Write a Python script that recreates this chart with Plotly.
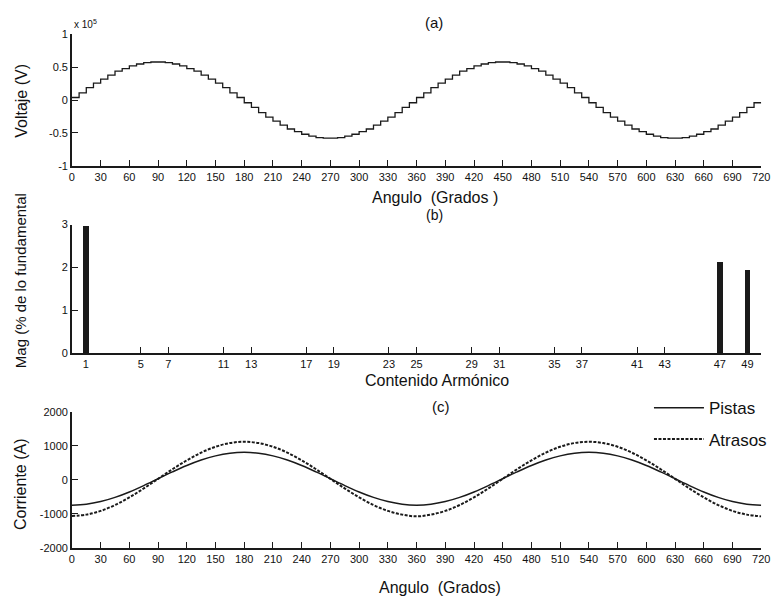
import plotly.graph_objects as go

# ---------------- data ----------------
angle_ticks = list(range(0, 721, 30))

# (a) stepped voltage (x 10^5 V), one level per 7.5 degree step, 0..720
step_angles = [i * 7.5 for i in range(96)] + [720]
voltage = [
    0.04, 0.11, 0.19, 0.26, 0.32, 0.38, 0.44, 0.48, 0.52, 0.55, 0.57, 0.58,
    0.58, 0.57, 0.55, 0.52, 0.48, 0.44, 0.38, 0.32, 0.26, 0.19, 0.11, 0.04,
    -0.04, -0.11, -0.19, -0.26, -0.32, -0.38, -0.44, -0.48, -0.52, -0.55, -0.57, -0.58,
    -0.58, -0.57, -0.55, -0.52, -0.48, -0.44, -0.38, -0.32, -0.26, -0.19, -0.11, -0.04,
    0.04, 0.11, 0.19, 0.26, 0.32, 0.38, 0.44, 0.48, 0.52, 0.55, 0.57, 0.58,
    0.58, 0.57, 0.55, 0.52, 0.48, 0.44, 0.38, 0.32, 0.26, 0.19, 0.11, 0.04,
    -0.04, -0.11, -0.19, -0.26, -0.32, -0.38, -0.44, -0.48, -0.52, -0.55, -0.57, -0.58,
    -0.58, -0.57, -0.55, -0.52, -0.48, -0.44, -0.38, -0.32, -0.26, -0.19, -0.11, -0.04,
]
voltage_plot = voltage + [voltage[-1]]

# (b) harmonic content (% of fundamental)
harmonics = [1, 5, 7, 11, 13, 17, 19, 23, 25, 29, 31, 35, 37, 41, 43, 47, 49]
magnitude = [2.97, 0, 0, 0, 0, 0, 0, 0, 0, 0, 0, 0, 0, 0, 0, 2.13, 1.96]

# (c) currents (A), every 15 degrees 0..720
current_angles = list(range(0, 721, 15))
pistas = [
    -740, -714, -636, -513, -353, -166, 35, 236, 423, 583, 706, 784, 810,
    784, 706, 583, 423, 236, 35, -166, -353, -513, -636, -714, -740,
    -714, -636, -513, -353, -166, 35, 236, 423, 583, 706, 784, 810,
    784, 706, 583, 423, 236, 35, -166, -353, -513, -636, -714, -740,
]
atrasos = [
    -1056, -1019, -910, -737, -512, -250, 32, 314, 576, 801, 974, 1083, 1120,
    1083, 974, 801, 576, 314, 32, -250, -512, -737, -910, -1019, -1070,
    -1019, -910, -737, -512, -250, 32, 314, 576, 801, 974, 1083, 1120,
    1083, 974, 801, 576, 314, 32, -250, -512, -737, -910, -1019, -1070,
]

# ---------------- figure ----------------
W, H = 784, 606
TICKFONT = dict(family="Liberation Sans Narrow, Liberation Sans, Arial", size=11, color="#111")
INK = "#1a1a1a"

def yd(top, bottom):
    return [1 - bottom / H, 1 - top / H]

XDOM = [70 / W, 770 / W]

fig = go.Figure()

fig.add_trace(go.Scatter(x=step_angles, y=voltage_plot, mode="lines", line_shape="hv",
                         line=dict(color=INK, width=1.3), showlegend=False,
                         xaxis="x", yaxis="y"))

fig.add_trace(go.Bar(x=harmonics, y=magnitude, width=0.4, marker=dict(color=INK, line_width=0),
                     showlegend=False, xaxis="x2", yaxis="y2"))

fig.add_trace(go.Scatter(x=current_angles, y=pistas, mode="lines", line_shape="spline",
                         name="Pistas", line=dict(color=INK, width=1.5),
                         legendgroup="g1", xaxis="x3", yaxis="y3"))
fig.add_trace(go.Scatter(x=current_angles, y=atrasos, mode="lines", line_shape="spline",
                         name="Atrasos", line=dict(color=INK, width=2, dash="3px,1.5px"),
                         legendgroup="g2", xaxis="x3", yaxis="y3"))

axis_common = dict(showline=True, linecolor=INK, linewidth=1.5, ticks="inside", ticklen=6,
                   tickcolor=INK, tickwidth=1, showgrid=False, zeroline=False,
                   tickfont=TICKFONT, mirror=False)

fig.update_layout(
    width=W, height=H, margin=dict(l=0, r=0, t=0, b=0),
    paper_bgcolor="white", plot_bgcolor="white",
    xaxis=dict(domain=XDOM, range=[0, 720], tickvals=angle_ticks, anchor="y", **axis_common),
    yaxis=dict(domain=yd(29, 163), range=[-1, 1], tickvals=[-1, -0.5, 0, 0.5, 1],
               ticktext=["-1", "-0.5", "0", "0.5", "1"], anchor="x", **axis_common),
    xaxis2=dict(domain=XDOM, range=[0, 50], tickvals=harmonics, anchor="y2", **axis_common),
    yaxis2=dict(domain=yd(223, 354), range=[0, 3], tickvals=[0, 1, 2, 3], anchor="x2", **axis_common),
    xaxis3=dict(domain=XDOM, range=[0, 720], tickvals=angle_ticks, anchor="y3", **axis_common),
    yaxis3=dict(domain=yd(414, 553), range=[-2000, 2000], tickvals=[-2000, -1000, 0, 1000, 2000],
                ticktext=["-2000", "-1000", "0", "1000", "2000"], anchor="x3", **axis_common),
    legend=dict(x=656 / W, y=1 - 392 / H, xanchor="left", yanchor="top",
                bgcolor="rgba(0,0,0,0)", font=dict(family="Liberation Sans, Arial", size=17, color="#111"),
                traceorder="grouped", tracegroupgap=6, itemwidth=50),
    bargap=0,
)

def ann(text, x, y, size=16, angle=0):
    fig.add_annotation(text=text, x=x / W, y=1 - y / H, xref="paper", yref="paper",
                       showarrow=False, textangle=angle, xanchor="center", yanchor="middle",
                       font=dict(family="Liberation Sans, Arial", size=size, color="#111"))

ann("(a)", 438, 17, 15)
ann("(b)", 438, 213, 14)
ann("(c)", 445, 409, 15)
ann("Angulo  (Grados )", 439, 195)
ann("Contenido Armónico", 441, 382)
ann("Angulo  (Grados)", 444, 593)
ann("Voltaje (V)", 18, 97, 16, -90)
ann("Mag (% de lo fundamental", 18, 280, 15, -90)
ann("Corriente (A)", 18, 488, 16, -90)
fig.add_annotation(text="x 10<sup>5</sup>", x=70 / W, y=1 - 18 / H, xref="paper", yref="paper",
                   showarrow=False, xanchor="left", yanchor="middle",
                   font=dict(family="Liberation Sans, Arial", size=10, color="#111"))

fig.write_html("out.html")
